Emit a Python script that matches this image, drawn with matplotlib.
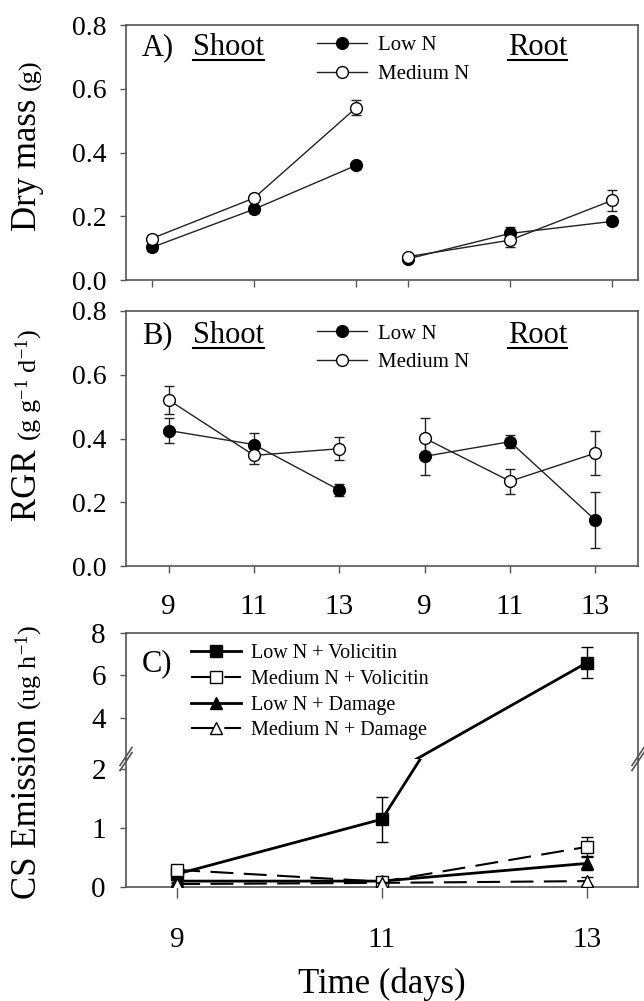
import matplotlib
matplotlib.use('Agg')
import matplotlib.pyplot as plt
from matplotlib.lines import Line2D

plt.rcParams['font.family'] = ['Liberation Serif', 'DejaVu Serif']
plt.rcParams['mathtext.fontset'] = 'custom'
plt.rcParams['mathtext.rm'] = 'Liberation Serif'
plt.rcParams['mathtext.it'] = 'Liberation Serif:italic'

W, H = 644, 1001

# Sampling days
days = [9, 11, 13]

# A) Dry mass (g)
mass_shoot_low = [0.102, 0.222, 0.360]
mass_shoot_low_err = [0.010, 0.012, 0.010]
mass_shoot_med = [0.130, 0.257, 0.541]
mass_shoot_med_err = [0.010, 0.010, 0.023]
mass_root_low = [0.066, 0.146, 0.184]
mass_root_low_err = [0.008, 0.020, 0.010]
mass_root_med = [0.073, 0.125, 0.250]
mass_root_med_err = [0.008, 0.020, 0.032]

# B) RGR (g g-1 d-1)
rgr_shoot_low = [0.425, 0.381, 0.238]
rgr_shoot_low_err = [0.038, 0.035, 0.018]
rgr_shoot_med = [0.521, 0.347, 0.368]
rgr_shoot_med_err = [0.045, 0.026, 0.036]
rgr_root_low = [0.344, 0.390, 0.144]
rgr_root_low_err = [0.060, 0.020, 0.088]
rgr_root_med = [0.401, 0.266, 0.354]
rgr_root_med_err = [0.063, 0.039, 0.070]

# C) CS emission (ug h-1)
cs_low_vol = [0.22, 1.15, 6.60]
cs_low_vol_err = [0.03, 0.38, 0.73]
cs_med_vol = [0.29, 0.09, 0.68]
cs_med_vol_err = [0.03, 0.05, 0.17]
cs_low_dmg = [0.10, 0.10, 0.40]
cs_low_dmg_err = [0.02, 0.03, 0.12]
cs_med_dmg = [0.05, 0.07, 0.10]
cs_med_dmg_err = [0.02, 0.03, 0.07]

SPINE = '#555555'
LINE = '#222222'


def rect(left, top, right, bottom):
    """Axes rectangle from pixel edges."""
    return [left / W, 1 - bottom / H, (right - left) / W, (bottom - top) / H]


def style_axes(ax):
    for s in ax.spines.values():
        s.set_color(SPINE)
        s.set_linewidth(1.2)
    ax.tick_params(colors='black', labelsize=20)
    ax.tick_params(axis='y', direction='out', length=4, width=1, color=SPINE, pad=10)


def draw_series(ax, x, y, err, filled, ms=8.5):
    ax.errorbar(x, y, yerr=err, fmt='none', ecolor=LINE, elinewidth=1,
                capsize=3.5, capthick=1, zorder=2)
    return ax.plot(x, y, '-o', color=LINE, lw=1, ms=ms, mew=1,
                   mfc='black' if filled else 'white', mec='black', zorder=3)[0]


def underlined(fig, ax, x, y, s, size):
    t = ax.text(x, y, s, transform=ax.transAxes, fontsize=size, ha='left', va='baseline')
    r = fig.canvas.get_renderer()
    bb = t.get_window_extent(r)
    yb = ax.transAxes.transform((x, y))[1] - 5
    fig.add_artist(Line2D([bb.x0 / W, bb.x1 / W], [yb / H, yb / H],
                          transform=fig.transFigure, color='black', lw=1.5))


def two_part_ylabel(fig, x_px, yc_px, main, sub, s1=25, s2=19):
    r = fig.canvas.get_renderer()
    kw = dict(rotation=90, rotation_mode='anchor', ha='left', va='baseline')
    t1 = fig.text(x_px / W, 0.5, main, fontsize=s1, **kw)
    t2 = fig.text(x_px / W, 0.5, sub, fontsize=s2, **kw)
    l1 = t1.get_window_extent(r).height
    l2 = t2.get_window_extent(r).height
    y0 = H - yc_px - (l1 + l2) / 2
    t1.set_position((x_px / W, y0 / H))
    t2.set_position((x_px / W, (y0 + l1) / H))


def panel_legend(ax, handles, labels, x, y, size, spacing):
    ax.legend(handles, labels, loc='center left', bbox_to_anchor=(x, y),
              frameon=False, fontsize=size, handlelength=2.4, handletextpad=0.55,
              labelspacing=spacing, borderpad=0, borderaxespad=0, numpoints=1)


fig = plt.figure(figsize=(W / 100, H / 100), dpi=100)

# ---------- Panel A ----------
axA = fig.add_axes(rect(126, 25, 638, 280))
style_axes(axA)
pos_shoot_a = [d - days[0] for d in days]
pos_root_a = [p + pos_shoot_a[-1] + 1 for p in pos_shoot_a]
hA1 = draw_series(axA, pos_shoot_a, mass_shoot_low, mass_shoot_low_err, True)
hA2 = draw_series(axA, pos_shoot_a, mass_shoot_med, mass_shoot_med_err, False)
draw_series(axA, pos_root_a, mass_root_low, mass_root_low_err, True)
draw_series(axA, pos_root_a, mass_root_med, mass_root_med_err, False)
axA.set_xlim(-0.5, pos_root_a[-1] + 0.5)
axA.set_ylim(0, 0.8)
axA.set_yticks([0, 0.2, 0.4, 0.6, 0.8])
axA.set_yticklabels(['0.0', '0.2', '0.4', '0.6', '0.8'])
axA.set_xticks(pos_shoot_a + pos_root_a)
axA.tick_params(axis='x', direction='out', length=5, width=1, color=SPINE,
                labelbottom=False)
axA.text(0.031, 0.882, 'A)', transform=axA.transAxes, fontsize=22, va='baseline')
underlined(fig, axA, 0.131, 0.882, 'Shoot', 22)
underlined(fig, axA, 0.746, 0.882, 'Root', 22)
panel_legend(axA, [hA1, hA2], ['Low N', 'Medium N'], 0.373, 0.864, 15, 0.45)

# ---------- Panel B ----------
axB = fig.add_axes(rect(126, 311, 638, 566))
style_axes(axB)
pos_shoot_b = list(range(len(days)))
pos_root_b = [p + len(days) for p in pos_shoot_b]
hB1 = draw_series(axB, pos_shoot_b, rgr_shoot_low, rgr_shoot_low_err, True)
hB2 = draw_series(axB, pos_shoot_b, rgr_shoot_med, rgr_shoot_med_err, False)
draw_series(axB, pos_root_b, rgr_root_low, rgr_root_low_err, True)
draw_series(axB, pos_root_b, rgr_root_med, rgr_root_med_err, False)
axB.set_xlim(-0.5, pos_root_b[-1] + 0.5)
axB.set_ylim(0, 0.8)
axB.set_yticks([0, 0.2, 0.4, 0.6, 0.8])
axB.set_yticklabels(['0.0', '0.2', '0.4', '0.6', '0.8'])
axB.set_xticks(pos_shoot_b + pos_root_b)
axB.set_xticklabels([str(d) for d in days + days])
axB.tick_params(axis='x', direction='out', length=5, width=1, color=SPINE,
                labelsize=21, pad=15)
axB.text(0.031, 0.875, 'B)', transform=axB.transAxes, fontsize=22, va='baseline')
underlined(fig, axB, 0.131, 0.875, 'Shoot', 22)
underlined(fig, axB, 0.746, 0.875, 'Root', 22)
panel_legend(axB, [hB1, hB2], ['Low N', 'Medium N'], 0.373, 0.855, 15, 0.42)

# ---------- Panel C (broken y axis) ----------
axCu = fig.add_axes(rect(126, 633, 638, 759))
axCl = fig.add_axes(rect(126, 759, 638, 887), sharex=axCu)
series_c = [
    (cs_low_vol, cs_low_vol_err, 's', 'black', '-', 2.0, 'Low N + Volicitin'),
    (cs_med_vol, cs_med_vol_err, 's', 'white', '--', 1.5, 'Medium N + Volicitin'),
    (cs_low_dmg, cs_low_dmg_err, '^', 'black', '-', 2.0, 'Low N + Damage'),
    (cs_med_dmg, cs_med_dmg_err, '^', 'white', '--', 1.5, 'Medium N + Damage'),
]
handles_c = []
for ax in (axCu, axCl):
    style_axes(ax)
    hs = []
    for vals, err, mk, fc, ls, lw, lab in series_c:
        ax.errorbar(days, vals, yerr=err, fmt='none', ecolor='black', elinewidth=1,
                    capsize=4.3, capthick=1, zorder=2)
        ln, = ax.plot(days, vals, color='black', ls=ls, lw=lw, marker=mk, ms=8,
                      mfc=fc, mec='black', mew=1, zorder=3 if fc == 'black' else 4)
        if ls == '--':
            ln.set_dashes((11, 5))
        hs.append(ln)
    handles_c = hs

axCu.set_ylim(2.07, 8)
axCu.set_yticks([4, 6, 8])
axCu.spines['bottom'].set_visible(False)
axCu.tick_params(axis='x', bottom=False, labelbottom=False)
axCu.tick_params(axis='y', length=4.5, labelsize=21)

axCl.set_ylim(0, 2.17)
axCl.set_yticks([0, 1, 2])
axCl.spines['top'].set_visible(False)
axCl.set_xlim(8.5, 13.5)
axCl.set_xticks(days)
axCl.tick_params(axis='x', direction='out', length=8, width=1, color=SPINE,
                 labelsize=21, pad=21)
axCl.tick_params(axis='y', length=4.5, labelsize=21)

# break marks on both side spines
for xb in (126, 638):
    for dy in (-2.5, 2.5):
        fig.add_artist(Line2D([(xb - 6) / W, (xb + 6) / W],
                              [(H - 759 - 9 + dy) / H, (H - 759 + 9 + dy) / H],
                              transform=fig.transFigure, color=SPINE, lw=1.2))

axCu.text(0.031, 0.70, 'C)', transform=axCu.transAxes, fontsize=22, va='baseline')
axCu.legend(handles_c, [s[-1] for s in series_c], loc='center left',
            bbox_to_anchor=(0.127, 0.53), frameon=False, fontsize=14.5,
            handlelength=2.5, handletextpad=0.5, labelspacing=0.33,
            borderpad=0, borderaxespad=0, numpoints=1)

# ---------- labels ----------
two_part_ylabel(fig, 36, 145, 'Dry mass ', '(g)')
two_part_ylabel(fig, 36, 425, 'RGR ',
                r'(g g$^{\mathregular{-1}}$ d$^{\mathregular{-1}}$)')
two_part_ylabel(fig, 36, 762, 'CS Emission ', r'(ug h$^{\mathregular{-1}}$)')
fig.text(382 / W, 1 - 984 / H, 'Time (days)', fontsize=25, ha='center', va='center')

fig.savefig('out.png', dpi=100)
